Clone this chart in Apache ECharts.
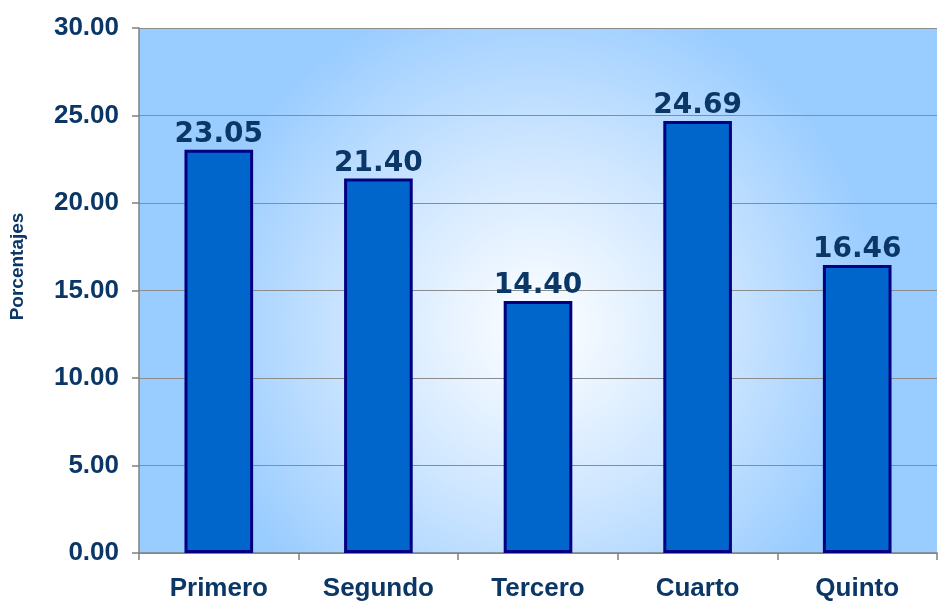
<!DOCTYPE html>
<html>
<head>
<meta charset="utf-8">
<script src="https://cdn.jsdelivr.net/npm/echarts@6/dist/echarts.min.js"></script>
<style>
  html, body { margin: 0; padding: 0; background: #fff; }
  #main { width: 938px; height: 605px; }
</style>
</head>
<body>
<div id="main"></div>
<script>
// datos
var categories = ['Primero', 'Segundo', 'Tercero', 'Cuarto', 'Quinto'];
var porcentajes = [23.05, 21.40, 14.40, 24.69, 16.46];
var yTicks = [0, 5, 10, 15, 20, 25, 30];

var textColor = '#0a3766';

var chart = echarts.init(document.getElementById('main'));

var option = {
  animation: false,
  grid: {
    left: 139,
    right: 1,
    top: 28,
    bottom: 52,
    show: true,
    borderWidth: 0,
    backgroundColor: new echarts.graphic.RadialGradient(0.5, 0.57, 0.66, [
      { offset: 0, color: '#ffffff' },
      { offset: 0.5, color: '#d0e7ff' },
      { offset: 1, color: '#99ccff' }
    ])
  },
  xAxis: {
    type: 'category',
    data: categories,
    axisLine: { lineStyle: { color: '#808080', width: 1.5 } },
    axisTick: { show: true, length: 7, lineStyle: { color: '#808080', width: 1.5 } },
    axisLabel: {
      color: textColor,
      fontFamily: 'Liberation Sans',
      fontWeight: 'bold',
      fontSize: 26,
      margin: 23
    }
  },
  yAxis: {
    type: 'value',
    min: yTicks[0],
    max: yTicks[yTicks.length - 1],
    interval: 5,
    name: 'Porcentajes',
    nameLocation: 'middle',
    nameGap: 112,
    nameTextStyle: {
      color: textColor,
      fontFamily: 'Liberation Sans',
      fontWeight: 'bold',
      fontSize: 19,
      padding: [0, 0, 0, 48]
    },
    axisLine: { show: true, lineStyle: { color: '#808080', width: 1.5 } },
    axisTick: { show: true, length: 7, lineStyle: { color: '#808080', width: 1.5 } },
    splitLine: { lineStyle: { color: '#8c8c8c', width: 1.2 } },
    axisLabel: {
      color: textColor,
      fontFamily: 'Liberation Sans',
      fontWeight: 'bold',
      fontSize: 26,
      margin: 20,
      formatter: function (v) { return v.toFixed(2); }
    }
  },
  series: [{
    type: 'bar',
    data: porcentajes,
    barWidth: '43%',
    itemStyle: {
      color: '#0066cc',
      borderColor: '#000080',
      borderWidth: 3
    },
    label: {
      show: true,
      position: 'top',
      distance: 1,
      color: textColor,
      fontFamily: 'DejaVu Sans',
      fontWeight: 'bold',
      fontSize: 28,
      formatter: function (p) { return p.value.toFixed(2); }
    }
  }]
};

chart.setOption(option);
</script>
</body>
</html>
